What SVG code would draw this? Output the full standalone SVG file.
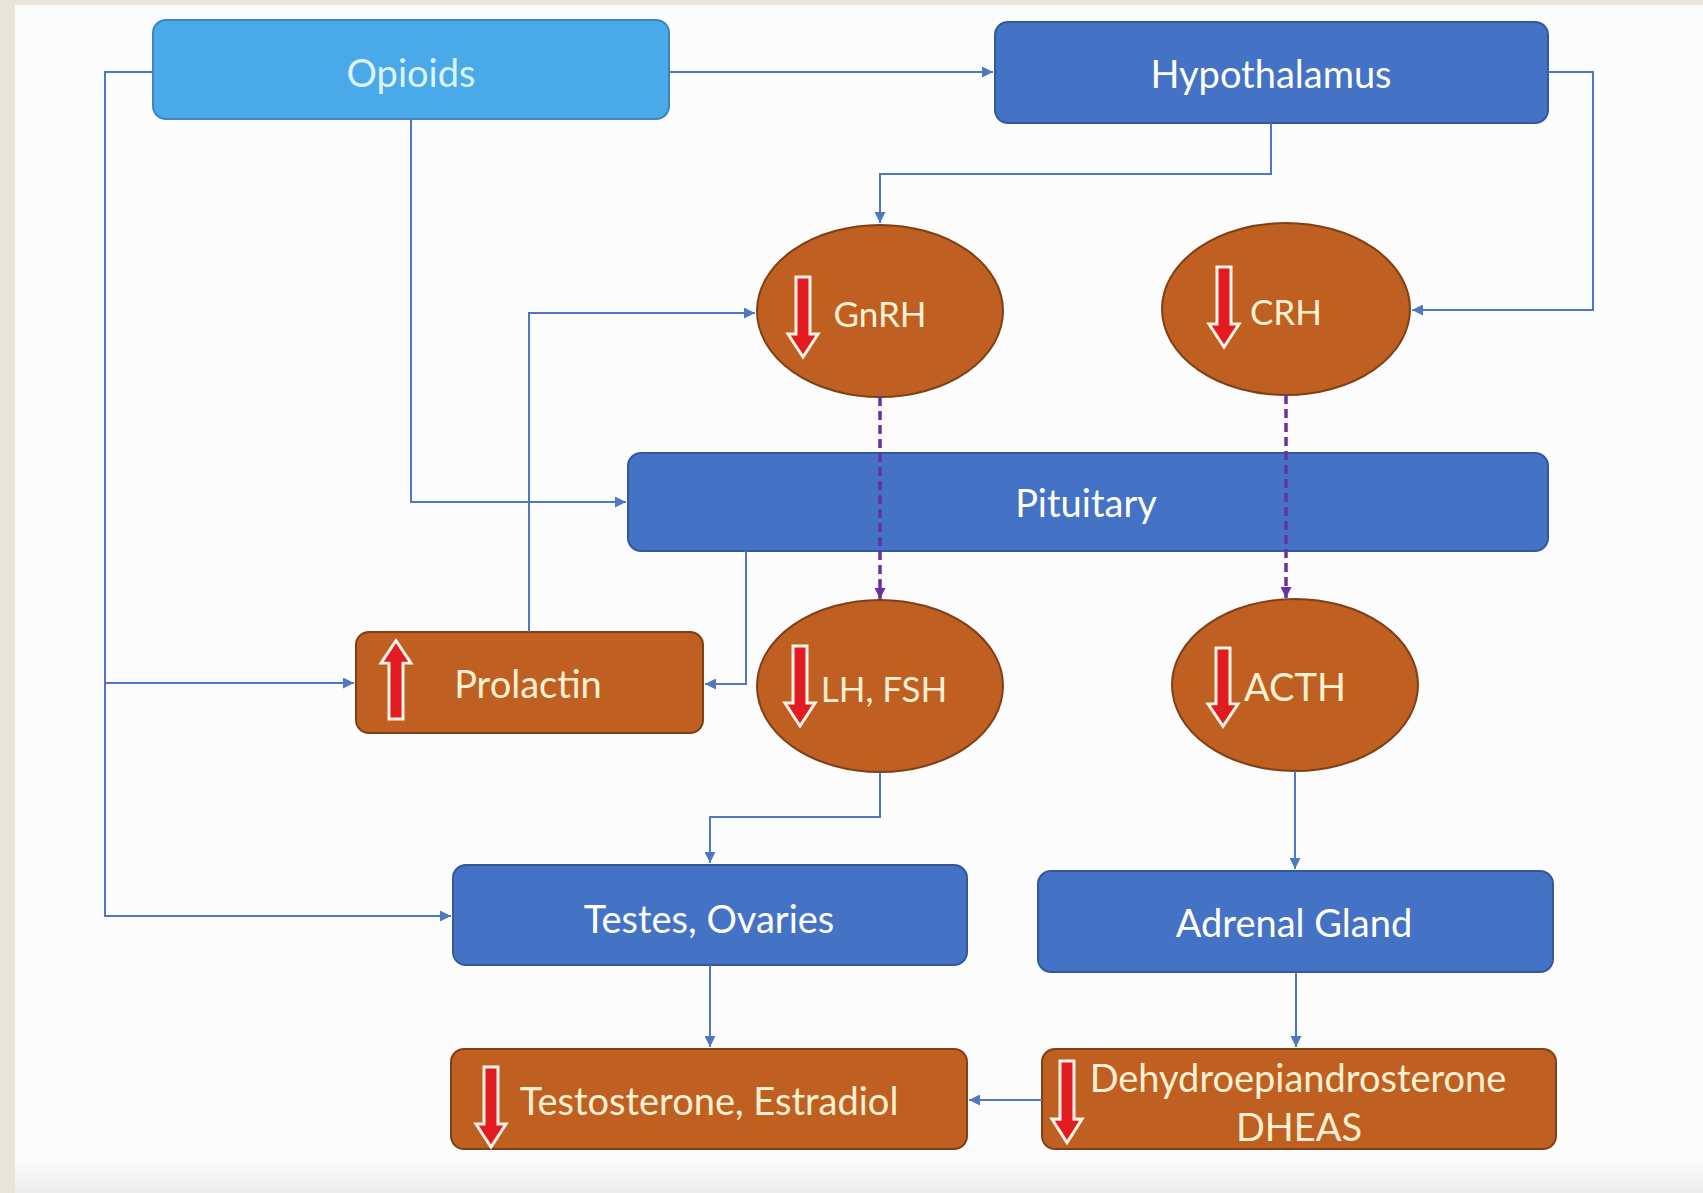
<svg xmlns="http://www.w3.org/2000/svg" width="1703" height="1193" viewBox="0 0 1703 1193">
<defs>
<style>
.bg{fill:#fcfcfc}
.blue{fill:#4472c4;stroke:#34589a;stroke-width:2}
.lblue{fill:#4aa9e8;stroke:#3a86bd;stroke-width:2}
.brown{fill:#bf5f22;stroke:#7f4016;stroke-width:2}
.t{font-family:Lato,"Open Sans","Liberation Sans",sans-serif;font-size:38px;text-anchor:middle;dominant-baseline:central}
.e{font-size:35px}
.tw{fill:#ffffff}
.tc{fill:#fff1d2}
.to{fill:#dcf4ff}
.c{fill:none;stroke:#4f77c2;stroke-width:2}
.d{fill:none;stroke:#6a2fa0;stroke-width:3.5;stroke-dasharray:9 5}
.ra{fill:#e11b1f;stroke:#fff4e6;stroke-width:3}
</style>
<marker id="ah" viewBox="0 0 10 10" refX="10" refY="5" markerWidth="11" markerHeight="11" markerUnits="userSpaceOnUse" orient="auto">
<path d="M0,0 L10,5 L0,10 Z" fill="#4f77c2"/>
</marker>
<marker id="ahp" viewBox="0 0 10 10" refX="10" refY="5" markerWidth="11" markerHeight="11" markerUnits="userSpaceOnUse" orient="auto">
<path d="M0,0 L10,5 L0,10 Z" fill="#6a2fa0"/>
</marker>
<path id="darr" d="M-7,0 H7 V57 H15 L0,80 L-15,57 H-7 Z"/>
<linearGradient id="bot" x1="0" y1="0" x2="0" y2="1">
<stop offset="0" stop-color="#fcfcfc"/>
<stop offset="1" stop-color="#ececec"/>
</linearGradient>
</defs>

<rect x="0" y="0" width="1703" height="1193" fill="#e9e5d9"/>
<rect class="bg" x="15" y="5" width="1688" height="1188"/>
<rect x="15" y="1158" width="1688" height="35" fill="url(#bot)"/>

<g id="opioids">
<rect class="lblue" x="153" y="20" width="516" height="99" rx="13"/>
<text class="t to" x="411" y="72">Opioids</text>
</g>

<g id="hypothalamus">
<rect class="blue" x="995" y="22" width="553" height="101" rx="13"/>
<text class="t tw" x="1271" y="73">Hypothalamus</text>
</g>

<g id="gnrh">
<ellipse class="brown" cx="880" cy="311" rx="123" ry="86"/>
<use href="#darr" class="ra" transform="translate(803,277)"/>
<text class="t e tc" x="880" y="313">GnRH</text>
</g>

<g id="crh">
<ellipse class="brown" cx="1286" cy="309" rx="124" ry="86"/>
<use href="#darr" class="ra" transform="translate(1224,267)"/>
<text class="t e tc" x="1286" y="311">CRH</text>
</g>

<g id="pituitary">
<rect class="blue" x="628" y="453" width="920" height="98" rx="13"/>
<text class="t tw" x="1086" y="502">Pituitary</text>
</g>

<g id="prolactin">
<rect class="brown" x="356" y="632" width="347" height="101" rx="13"/>
<use href="#darr" class="ra" transform="translate(396,719) scale(1,-0.98)"/>
<text class="t tc" x="528" y="683">Prolactin</text>
</g>

<g id="lhfsh">
<ellipse class="brown" cx="880" cy="686" rx="123" ry="86"/>
<use href="#darr" class="ra" transform="translate(800,646)"/>
<text class="t e tc" x="884" y="688">LH, FSH</text>
</g>

<g id="acth">
<ellipse class="brown" cx="1295" cy="685" rx="123" ry="86"/>
<use href="#darr" class="ra" transform="translate(1223,648) scale(1,0.98)"/>
<text class="t tc" x="1295" y="686">ACTH</text>
</g>

<g id="testes">
<rect class="blue" x="453" y="865" width="514" height="100" rx="13"/>
<text class="t tw" x="709" y="918">Testes, Ovaries</text>
</g>

<g id="adrenal">
<rect class="blue" x="1038" y="871" width="515" height="101" rx="13"/>
<text class="t tw" x="1294" y="922">Adrenal Gland</text>
</g>

<g id="testosterone">
<rect class="brown" x="451" y="1049" width="516" height="100" rx="13"/>
<use href="#darr" class="ra" transform="translate(491,1067)"/>
<text class="t tc" x="709" y="1100">Testosterone, Estradiol</text>
</g>

<g id="dhea">
<rect class="brown" x="1042" y="1049" width="514" height="100" rx="13"/>
<use href="#darr" class="ra" transform="translate(1067,1061) scale(1,1.02)"/>
<text class="t tc" x="1298" y="1077">Dehydroepiandrosterone</text>
<text class="t tc" x="1299" y="1126">DHEAS</text>
</g>

<g id="connectors">
<path class="c" d="M669,72 H993" marker-end="url(#ah)"/>
<path class="c" d="M153,72 H105 V916 H451" marker-end="url(#ah)"/>
<path class="c" d="M105,683 H354" marker-end="url(#ah)"/>
<path class="c" d="M411,119 V502 H626" marker-end="url(#ah)"/>
<path class="c" d="M1271,123 V174 H880 V223" marker-end="url(#ah)"/>
<path class="c" d="M1548,72 H1593 V310 H1412" marker-end="url(#ah)"/>
<path class="c" d="M529,632 V313 H755" marker-end="url(#ah)"/>
<path class="c" d="M746,551 V684 H705" marker-end="url(#ah)"/>
<path class="d" d="M880,397 V599" marker-end="url(#ahp)"/>
<path class="d" d="M1286,395 V598" marker-end="url(#ahp)"/>
<path class="c" d="M880,772 V817 H710 V863" marker-end="url(#ah)"/>
<path class="c" d="M1295,771 V869" marker-end="url(#ah)"/>
<path class="c" d="M710,965 V1047" marker-end="url(#ah)"/>
<path class="c" d="M1296,972 V1047" marker-end="url(#ah)"/>
<path class="c" d="M1042,1100 H969" marker-end="url(#ah)"/>
</g>
</svg>
